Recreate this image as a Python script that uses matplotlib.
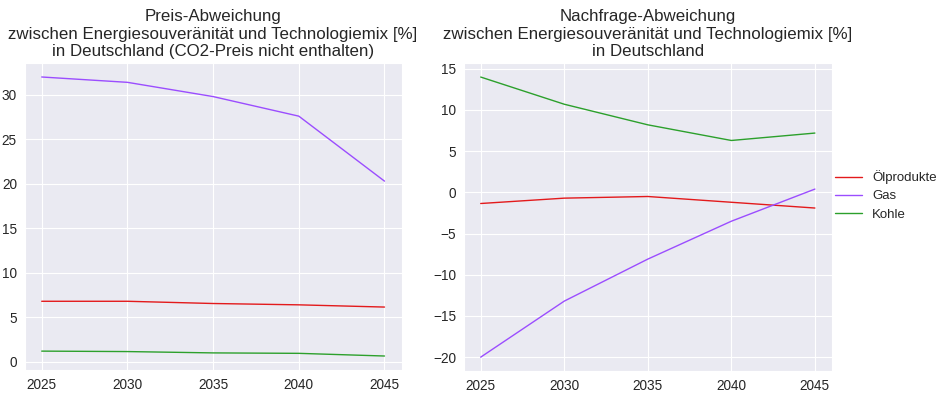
import matplotlib
matplotlib.use("Agg")
import matplotlib.pyplot as plt
import seaborn as sns

years = [2025, 2030, 2035, 2040, 2045]

# Preis-Abweichung [%]
preis_oel = [6.8, 6.8, 6.55, 6.4, 6.15]
preis_gas = [32.0, 31.4, 29.8, 27.6, 20.3]
preis_kohle = [1.2, 1.15, 1.0, 0.95, 0.65]

# Nachfrage-Abweichung [%]
nachfrage_oel = [-1.35, -0.7, -0.5, -1.2, -1.9]
nachfrage_gas = [-20.0, -13.2, -8.1, -3.5, 0.4]
nachfrage_kohle = [14.0, 10.7, 8.2, 6.3, 7.2]

labels = ["Ölprodukte", "Gas", "Kohle"]
colors = ["#e31a1c", "#9b4dff", "#2ca02c"]

sns.set_style("darkgrid")
plt.rcParams["font.family"] = ["Liberation Sans", "DejaVu Sans"]

fig = plt.figure(figsize=(9.45, 3.94), dpi=100)
ax1 = fig.add_axes([0.026, 0.061, 0.399, 0.779])
ax2 = fig.add_axes([0.491, 0.058, 0.389, 0.782])

for ax, series in ((ax1, (preis_oel, preis_gas, preis_kohle)),
                   (ax2, (nachfrage_oel, nachfrage_gas, nachfrage_kohle))):
    for vals, lab, col in zip(series, labels, colors):
        ax.plot(years, vals, color=col, linewidth=1.0, label=lab)
    ax.set_xticks(years)
    ax.tick_params(labelsize=9.8, pad=2)

ax1.set_title("Preis-Abweichung\nzwischen Energiesouveränität und Technologiemix [%]\n"
              "in Deutschland (CO2-Preis nicht enthalten)", fontsize=12.2, linespacing=1.2, pad=5)
ax2.set_title("Nachfrage-Abweichung\nzwischen Energiesouveränität und Technologiemix [%]\n"
              "in Deutschland", fontsize=12.2, linespacing=1.2, pad=5)

ax2.legend(loc="center left", bbox_to_anchor=(0.978, 0.57), frameon=False, fontsize=9.5,
           labelspacing=0.45)

plt.savefig("out.png", dpi=100)
plt.close()
